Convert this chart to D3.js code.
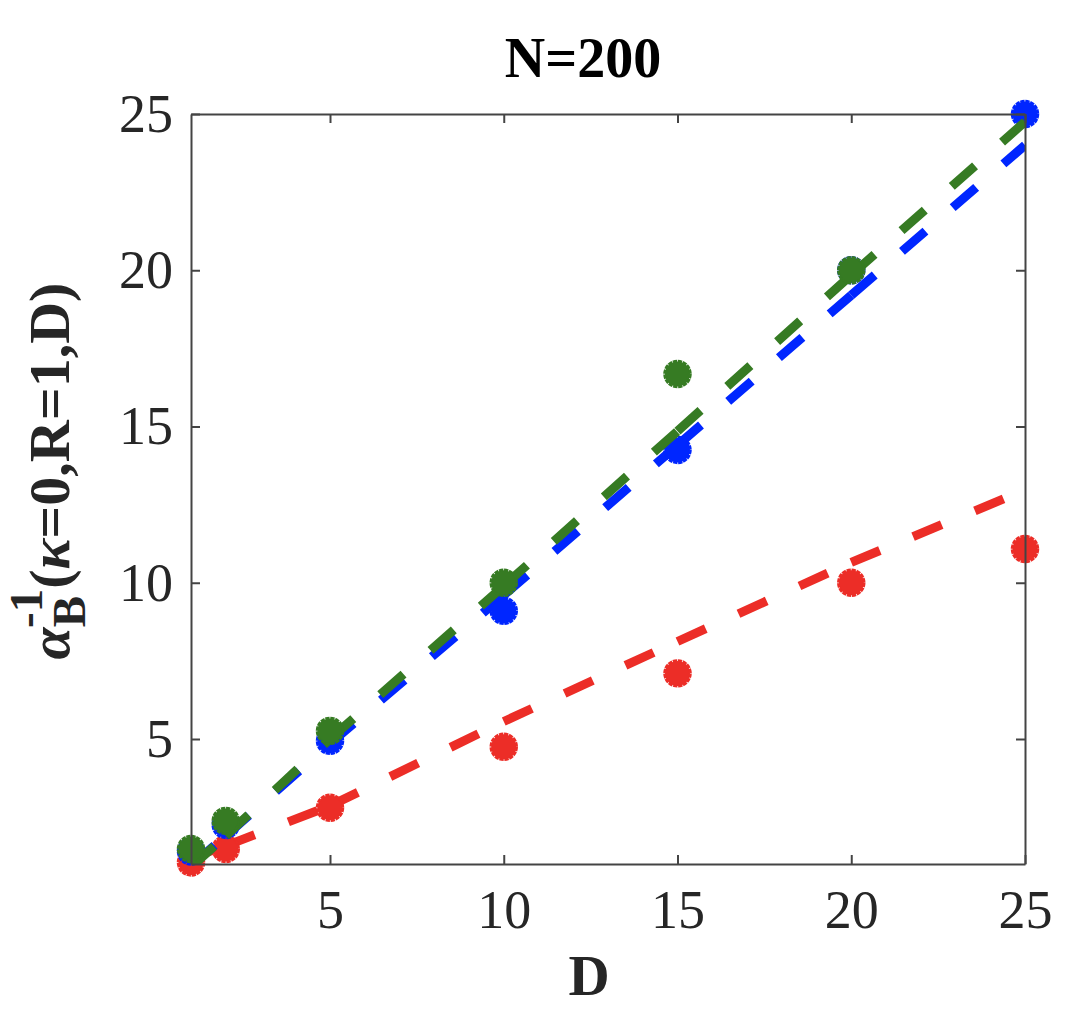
<!DOCTYPE html>
<html>
<head>
<meta charset="utf-8">
<script src="https://cdn.jsdelivr.net/npm/d3@7"></script>
<style>
  body { margin: 0; background: #fff; }
  text { font-family: "Liberation Serif", "DejaVu Serif", serif; fill: #262626; }
</style>
</head>
<body>
<div id="chart"></div>
<script>
// values
var dims = [1, 2, 5, 10, 15, 20, 25];
var xTicks = [5, 10, 15, 20, 25];
var yTicks = [5, 10, 15, 20, 25];

var redPts   = [1.05, 1.48, 2.80, 4.75, 7.10, 10.0, 11.08];
var bluePts  = [1.40, 2.25, 4.94, 9.10, 14.25, 20.0, 25.0];
var greenPts = [1.48, 2.38, 5.26, 10.0, 16.68, 20.0, null];

// fitted curves, as read at each D
var redFit   = [1.20, 1.58, 2.86, 5.56, 8.12, 10.65, 12.97];
var blueFit  = [0.95, 1.90, 4.85, 9.60, 14.4, 19.2, 24.0];
var greenFit = [0.90, 1.90, 5.00, 9.90, 14.85, 19.85, 24.75];

var series = [
  {color: "#ec2d27", pts: redPts, fit: redFit},
  {color: "#0026ff", pts: bluePts, fit: blueFit},
  {color: "#367b23", pts: greenPts, fit: greenFit}
];

var W = 1082, H = 1016;
var margin = {top: 114, right: 57, bottom: 152, left: 191},
    width = W - margin.left - margin.right,
    height = H - margin.top - margin.bottom;

var x = d3.scaleLinear().domain([1, 25]).range([0, width]);
var y = d3.scaleLinear().domain([1, 25]).range([height, 0]);

var svg = d3.select("#chart").append("svg")
    .attr("width", W)
    .attr("height", H);

var g = svg.append("g")
    .attr("transform", "translate(" + margin.left + "," + margin.top + ")");

g.append("clipPath").attr("id", "clip")
  .append("rect").attr("width", width).attr("height", height);

var line = d3.line()
    .x(function(d) { return x(d[0]); })
    .y(function(d) { return y(d[1]); });

series.forEach(function(s) {
  var fit = dims.map(function(d, i) { return [d, s.fit[i]]; });
  // dash pattern starts over at every vertex, so one path per segment
  var segs = d3.pairs(fit);
  g.selectAll(null).data(segs).enter().append("path")
      .attr("clip-path", "url(#clip)")
      .attr("fill", "none")
      .attr("stroke", s.color)
      .attr("stroke-width", 9)
      .attr("stroke-dasharray", "31,36")
      .attr("d", line);

  var pts = dims.map(function(d, i) { return [d, s.pts[i]]; })
      .filter(function(q) { return q[1] != null; });

  var m = g.selectAll(null).data(pts).enter().append("g")
      .attr("transform", function(d) { return "translate(" + x(d[0]) + "," + y(d[1]) + ")"; });
  m.append("circle").attr("r", 12.5).attr("fill", s.color);
  m.append("circle").attr("r", 13)
      .attr("fill", "none")
      .attr("stroke", s.color)
      .attr("stroke-width", 2.5)
      .attr("stroke-dasharray", "4.3,0.8");
});

// axes, ticks inward on all four sides
var axisColor = "#444";
var xAxis = d3.axisBottom(x).tickValues(xTicks).tickSize(-9).tickPadding(26).tickSizeOuter(0);
var yAxis = d3.axisLeft(y).tickValues(yTicks).tickSize(-9).tickPadding(18).tickSizeOuter(0);

g.append("g")
    .attr("transform", "translate(0," + height + ")")
    .call(xAxis);
g.append("g").call(yAxis);

g.append("g").call(d3.axisTop(x).tickValues(xTicks).tickSize(-9).tickSizeOuter(0).tickFormat(""));
g.append("g").attr("transform", "translate(" + width + ",0)")
    .call(d3.axisRight(y).tickValues(yTicks).tickSize(-9).tickSizeOuter(0).tickFormat(""));

g.selectAll(".domain").attr("stroke", axisColor).attr("stroke-width", 2);
g.selectAll(".tick line").attr("stroke", axisColor).attr("stroke-width", 2);
g.selectAll(".tick text")
    .attr("font-size", 54)
    .attr("fill", "#262626");

// title
svg.append("text")
    .attr("x", 583)
    .attr("y", 77)
    .attr("text-anchor", "middle")
    .attr("font-size", 56)
    .attr("font-weight", "bold")
    .style("fill", "#000")
    .text("N=200");

// x label
svg.append("text")
    .attr("x", 589)
    .attr("y", 995)
    .attr("text-anchor", "middle")
    .attr("font-size", 57)
    .attr("font-weight", "bold")
    .text("D");

// y label
var yl = svg.append("text")
    .attr("transform", "translate(69,471) rotate(-90)")
    .attr("text-anchor", "middle")
    .attr("font-size", 58)
    .attr("font-weight", "bold");
yl.append("tspan").attr("font-style", "italic").text("α");
yl.append("tspan").attr("dy", 16).attr("font-size", 47).text("B");
yl.append("tspan").attr("dx", -32).attr("dy", -43).attr("font-size", 47).text("-1");
yl.append("tspan").attr("dy", 27).text("(");
yl.append("tspan").attr("font-style", "italic").text("κ");
yl.append("tspan").text("=0,R=1,D)");
</script>
</body>
</html>
